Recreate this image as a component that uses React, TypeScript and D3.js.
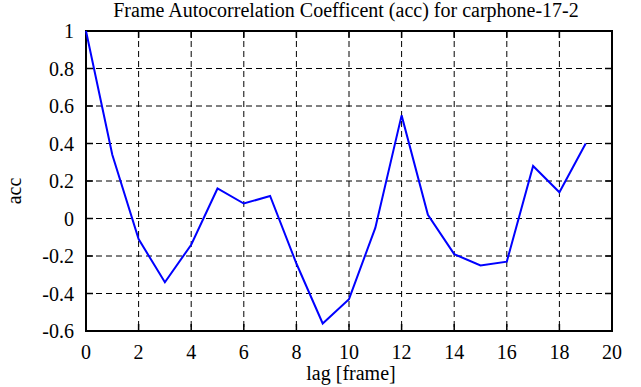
import React, { useEffect, useRef } from "react";
import * as d3 from "d3";

const lags = [0, 1, 2, 3, 4, 5, 6, 7, 8, 9, 10, 11, 12, 13, 14, 15, 16, 17, 18, 19];
const accValues = [1.0, 0.34, -0.11, -0.34, -0.14, 0.16, 0.08, 0.12, -0.24, -0.56, -0.43, -0.05, 0.55, 0.02, -0.19, -0.25, -0.23, 0.28, 0.14, 0.4];
const xTicks = [0, 2, 4, 6, 8, 10, 12, 14, 16, 18, 20];
const yTicks = [-0.6, -0.4, -0.2, 0, 0.2, 0.4, 0.6, 0.8, 1];
const titleText = "Frame Autocorrelation Coefficent (acc) for carphone-17-2";
const xLabel = "lag [frame]";
const yLabel = "acc";

export default function App() {
  const ref = useRef<SVGSVGElement>(null);
  useEffect(() => {
    const svg = d3.select(ref.current);
    svg.selectAll("*").remove();
    const W = 641, H = 387;
    const L = 86, R = 612, T = 31, B = 331;
    const x = d3.scaleLinear().domain([0, 20]).range([L, R]);
    const y = d3.scaleLinear().domain([-0.6, 1]).range([B, T]);
    const font = "'Liberation Serif', 'Times New Roman', serif";
    const fs = 20;

    svg.append("rect").attr("width", W).attr("height", H).attr("fill", "white");

    const g = svg.append("g");
    // grid
    xTicks.slice(1, -1).forEach((t) => {
      g.append("line").attr("x1", x(t)).attr("x2", x(t)).attr("y1", T).attr("y2", B)
        .attr("stroke", "black").attr("stroke-width", 1).attr("stroke-dasharray", "6,4");
    });
    yTicks.slice(1, -1).forEach((t) => {
      g.append("line").attr("x1", L).attr("x2", R).attr("y1", y(t)).attr("y2", y(t))
        .attr("stroke", "black").attr("stroke-width", 1).attr("stroke-dasharray", "6,4");
    });
    // ticks inward
    const tl = 7;
    xTicks.forEach((t) => {
      g.append("line").attr("x1", x(t)).attr("x2", x(t)).attr("y1", B).attr("y2", B - tl).attr("stroke", "black").attr("stroke-width", 1.5);
      g.append("line").attr("x1", x(t)).attr("x2", x(t)).attr("y1", T).attr("y2", T + tl).attr("stroke", "black").attr("stroke-width", 1.5);
      g.append("text").attr("x", x(t)).attr("y", B + 28).attr("text-anchor", "middle")
        .attr("font-family", font).attr("font-size", fs).text(String(t));
    });
    yTicks.forEach((t) => {
      g.append("line").attr("x1", L).attr("x2", L + tl).attr("y1", y(t)).attr("y2", y(t)).attr("stroke", "black").attr("stroke-width", 1.5);
      g.append("line").attr("x1", R).attr("x2", R - tl).attr("y1", y(t)).attr("y2", y(t)).attr("stroke", "black").attr("stroke-width", 1.5);
      g.append("text").attr("x", L - 12).attr("y", y(t) + 7).attr("text-anchor", "end")
        .attr("font-family", font).attr("font-size", fs).text(String(t));
    });
    // border
    g.append("rect").attr("x", L).attr("y", T).attr("width", R - L).attr("height", B - T)
      .attr("fill", "none").attr("stroke", "black").attr("stroke-width", 2);

    // line
    const line = d3.line<number>().x((_, i) => x(lags[i])).y((d) => y(d));
    g.append("path").attr("d", line(accValues) as string).attr("fill", "none")
      .attr("stroke", "#0000ff").attr("stroke-width", 2).attr("stroke-linejoin", "miter");

    // labels
    g.append("text").attr("x", 346).attr("y", 17).attr("text-anchor", "middle")
      .attr("font-family", font).attr("font-size", fs).text(titleText);
    g.append("text").attr("x", 351).attr("y", 380).attr("text-anchor", "middle")
      .attr("font-family", font).attr("font-size", fs).text(xLabel);
    g.append("text").attr("transform", `translate(21,191) rotate(-90)`).attr("text-anchor", "middle")
      .attr("font-family", font).attr("font-size", fs).text(yLabel);
  }, []);
  return (
    <svg ref={ref} width={641} height={387} style={{ position: "absolute", left: 0, top: 0 }} />
  );
}
